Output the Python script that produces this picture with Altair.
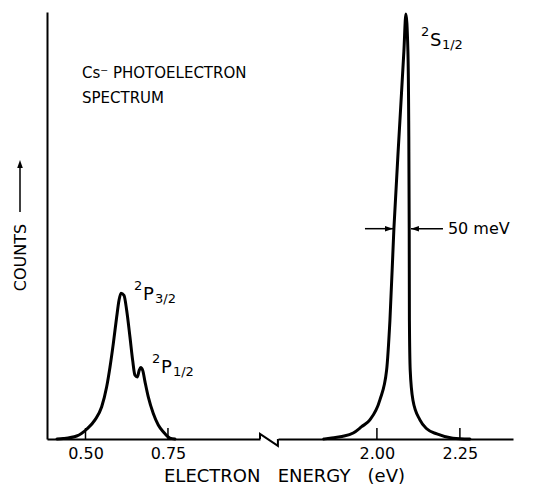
import altair as alt
import pandas as pd

# ---- 2P doublet (left part of the broken axis) ----
p_energy = [0.4136, 0.4327, 0.4733, 0.5036, 0.5288, 0.5491, 0.5642, 0.5742, 0.5842, 0.5945,
            0.6015, 0.6076, 0.6167, 0.6248, 0.6348, 0.6430, 0.6500, 0.6570, 0.6630, 0.6673,
            0.6733, 0.6803, 0.6903, 0.7055, 0.7206, 0.7358, 0.7561, 0.7712]
p_counts = [0.0, 0.1, 0.7, 2.3, 4.5, 7.6, 12.3, 16.9, 22.4, 28.7,
            32.6, 34.3, 33.8, 30.3, 24.0, 18.5, 15.0, 14.6, 16.2, 16.8,
            16.2, 13.5, 9.9, 6.0, 3.3, 1.7, 0.2, 0.0]

# ---- 2S peak (right part of the broken axis) ----
s_energy = [1.8400, 1.8584, 1.8946, 1.9286, 1.9539, 1.9789, 2.0090, 2.0292, 2.0392, 2.0512,
            2.0693, 2.0813, 2.0873, 2.0934, 2.0958, 2.0973, 2.0979, 2.1003, 2.1084, 2.1295,
            2.1500, 2.1807, 2.2289, 2.2801]
s_counts = [0.0, 0.2, 0.6, 1.4, 2.9, 4.5, 9.2, 16.2, 27.9, 49.5,
            74.9, 91.3, 100.0, 91.3, 74.9, 49.5, 27.9, 16.2, 9.2, 4.5,
            2.4, 1.2, 0.2, 0.0]

left_ticks = [0.50, 0.75]
right_ticks = [2.00, 2.25]
left_domain = [0.3833, 1.029]
right_domain = [1.702, 2.41]

# axis break (zig-zag) in left-axis units
break_e = [1.029, 1.029, 1.0833, 1.0833]
break_c = [0.0, 1.2, -1.6, 0.0]

# annotations
note_lines = ["Cs\u207b PHOTOELECTRON", "SPECTRUM"]
note_e = [0.4894, 0.4894]
note_c = [86.2, 80.2]

termL_e = [0.6470, 0.7015]
termL_c = [32.6, 15.5]
termL_sup = ["2", "2"]
termL_main = ["P", "P"]
termL_sub = ["3/2", "1/2"]

termR_e = [2.1327]
termR_c = [92.5]
termR_sup = ["2"]
termR_main = ["S"]
termR_sub = ["1/2"]

fwhm_c = 49.5
fwhm_left_arrow = [1.9640, 2.0484]
fwhm_right_arrow = [2.1990, 2.1026]
fwhm_text_e = 2.2139
fwhm_text = "50 meV"

x_title = "ELECTRON\u00a0\u00a0\u00a0ENERGY\u00a0\u00a0\u00a0(eV)"

# ---- scales / axes ----
scale_left = alt.Scale(domain=left_domain, range=[0, 213], nice=False, zero=False)
scale_right = alt.Scale(domain=right_domain, range=[231, 466], nice=False, zero=False)
scale_y = alt.Scale(domain=[0, 100.5], nice=False, zero=False)

axis_left = alt.Axis(orient="bottom", values=left_ticks, format=".2f", ticks=False, tickSize=0,
                     grid=False, domainColor="black", domainWidth=2, labelColor="black",
                     labelFontSize=16, labelPadding=6, labelFlush=False,
                     title=x_title, titleX=237, titleY=37,
                     titleAlign="center", titleBaseline="middle", titleFontSize=18,
                     titleFontWeight="normal", titleColor="black")
axis_right = alt.Axis(orient="bottom", values=right_ticks, format=".2f", ticks=False, tickSize=0,
                      grid=False, domainColor="black", domainWidth=2, labelColor="black",
                      labelFontSize=16, labelPadding=6, labelFlush=False, title=None)
axis_y = alt.Axis(title="COUNTS", labels=False, ticks=False, grid=False, domainColor="black",
                  domainWidth=2, titleX=-27, titleY=245, titleAngle=270, titleAlign="center",
                  titleBaseline="middle", titleFontSize=16, titleFontWeight="normal",
                  titleColor="black")


def xl(field):
    return alt.X(field, type="quantitative", scale=scale_left, axis=axis_left)


def xr(field):
    return alt.X(field, type="quantitative", scale=scale_right, axis=axis_right)


yenc = alt.Y("c:Q", scale=scale_y, axis=axis_y)

# ---- data frames ----
p_df = pd.DataFrame({"e": p_energy, "c": p_counts})
s_df = pd.DataFrame({"e": s_energy, "c": s_counts})
lt_df = pd.DataFrame({"e": left_ticks})
rt_df = pd.DataFrame({"e": right_ticks})
br_df = pd.DataFrame({"e": break_e, "c": break_c, "i": list(range(len(break_e)))})
note_df = pd.DataFrame({"e": note_e, "c": note_c, "t": note_lines})
tl_df = pd.DataFrame({"e": termL_e, "c": termL_c, "sup": termL_sup, "main": termL_main, "sub": termL_sub})
tr_df = pd.DataFrame({"e": termR_e, "c": termR_c, "sup": termR_sup, "main": termR_main, "sub": termR_sub})
arr_df = pd.DataFrame({"e": [fwhm_left_arrow[0], fwhm_right_arrow[0]],
                       "e2": [fwhm_left_arrow[1], fwhm_right_arrow[1]],
                       "c": [fwhm_c, fwhm_c]})
headR_df = pd.DataFrame({"e": [fwhm_left_arrow[1]], "c": [fwhm_c]})
headL_df = pd.DataFrame({"e": [fwhm_right_arrow[1]], "c": [fwhm_c]})
fw_df = pd.DataFrame({"e": [fwhm_text_e], "c": [fwhm_c], "t": [fwhm_text]})
one_df = pd.DataFrame({"k": [0]})


def term_layers(df, xfun):
    base = alt.Chart(df)
    sup = base.mark_text(align="left", baseline="alphabetic", fontSize=13, dy=-10, color="black").encode(
        x=xfun("e"), y=yenc, text="sup:N")
    main = base.mark_text(align="left", baseline="alphabetic", fontSize=18, dx=9, color="black").encode(
        x=xfun("e"), y=yenc, text="main:N")
    sub = base.mark_text(align="left", baseline="alphabetic", fontSize=13, dx=21, dy=3, color="black").encode(
        x=xfun("e"), y=yenc, text="sub:N")
    return [sup, main, sub]


line_style = dict(color="black", strokeWidth=3, interpolate="monotone", strokeJoin="round", strokeCap="round")

left_curve = alt.Chart(p_df).mark_line(**line_style).encode(x=xl("e"), y=yenc)
left_ticks_m = alt.Chart(lt_df).mark_rule(color="black", strokeWidth=1.5).encode(
    x=xl("e"), y=alt.value(427), y2=alt.value(416))
zigzag = alt.Chart(br_df).mark_line(color="black", strokeWidth=2, clip=False).encode(
    x=xl("e"), y=yenc, order="i:O")
notes = alt.Chart(note_df).mark_text(align="left", baseline="middle", fontSize=15, color="black").encode(
    x=xl("e"), y=yenc, text="t:N")
yarrow_shaft = alt.Chart(one_df).mark_rule(color="black", strokeWidth=1.5).encode(
    x=alt.value(-27), y=alt.value(200), y2=alt.value(152))
yarrow_head = alt.Chart(one_df).mark_point(shape="M0,0L-0.7,2L0.7,2Z", size=64, filled=True,
                                            color="black", opacity=1).encode(
    x=alt.value(-27), y=alt.value(148))

left_group = alt.layer(left_curve, left_ticks_m, zigzag, notes, yarrow_shaft, yarrow_head,
                       *term_layers(tl_df, xl))

right_curve = alt.Chart(s_df).mark_line(**line_style).encode(x=xr("e"), y=yenc)
right_ticks_m = alt.Chart(rt_df).mark_rule(color="black", strokeWidth=1.5).encode(
    x=xr("e"), y=alt.value(427), y2=alt.value(416))
shafts = alt.Chart(arr_df).mark_rule(color="black", strokeWidth=1.5).encode(
    x=xr("e"), x2="e2:Q", y=yenc)
headR = alt.Chart(headR_df).mark_point(shape="M0,0L-2,-0.7L-2,0.7Z", size=64, filled=True,
                                       color="black", opacity=1).encode(x=xr("e"), y=yenc)
headL = alt.Chart(headL_df).mark_point(shape="M0,0L2,-0.7L2,0.7Z", size=64, filled=True,
                                       color="black", opacity=1).encode(x=xr("e"), y=yenc)
fw_text = alt.Chart(fw_df).mark_text(align="left", baseline="middle", fontSize=16, color="black").encode(
    x=xr("e"), y=yenc, text="t:N")

right_group = alt.layer(right_curve, right_ticks_m, shafts, headR, headL, fw_text,
                        *term_layers(tr_df, xr))

chart = (
    alt.layer(left_group, right_group)
    .resolve_scale(x="independent")
    .properties(width=466, height=427,
                padding={"left": 39, "top": 4, "right": 15, "bottom": 48},
                autosize=alt.AutoSizeParams(type="none"),
                background="white")
    .configure(font="DejaVu Sans")
    .configure_view(strokeWidth=0)
    .configure_axis(labelFont="DejaVu Sans", titleFont="DejaVu Sans")
    .configure_text(font="DejaVu Sans")
)

chart.save("out.html", embed_options={"renderer": "svg", "actions": False})
